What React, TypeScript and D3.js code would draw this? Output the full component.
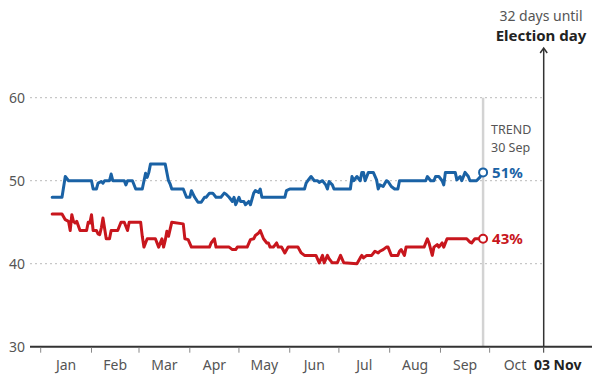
import * as d3 from 'd3'

const WIDTH = 600
const HEIGHT = 387

// poll tracker, 2020
const bidenDates = [
  '01-08', '01-14', '01-16', '01-18', '02-01', '02-02', '02-04', '02-05', '02-07', '02-08',
  '02-09', '02-12', '02-13', '02-14', '02-21', '02-22', '02-23', '02-26', '02-28', '03-03',
  '03-05', '03-06', '03-07', '03-08', '03-17', '03-19', '03-20', '03-21', '03-28', '03-30',
  '04-01', '04-02', '04-04', '04-06', '04-08', '04-10', '04-11', '04-13', '04-15', '04-17',
  '04-20', '04-22', '04-23', '04-25', '04-27', '04-28', '04-29', '05-01', '05-02', '05-04',
  '05-05', '05-07', '05-08', '05-10', '05-11', '05-13', '05-14', '05-15', '05-29', '05-30',
  '06-01', '06-10', '06-11', '06-12', '06-14', '06-16', '06-18', '06-19', '06-21', '06-23',
  '06-24', '06-25', '06-27', '06-28', '07-08', '07-09', '07-10', '07-12', '07-14', '07-15',
  '07-16', '07-17', '07-19', '07-22', '07-24', '07-25', '07-26', '07-28', '07-30', '07-31',
  '08-02', '08-04', '08-06', '08-07', '08-23', '08-24', '08-26', '08-28', '08-29', '08-31',
  '09-02', '09-03', '09-04', '09-10', '09-11', '09-13', '09-14', '09-16', '09-18', '09-19',
  '09-23', '09-25', '09-27',
]
const bidenValues = [
  48, 48, 50.5, 50, 50, 49, 49, 49.7, 49.9, 49.7,
  50, 50, 50.8, 50, 50, 49.5, 50, 50, 49, 49,
  50.9, 50.4, 51, 52, 52, 50, 49.6, 49, 49, 48,
  48, 48.8, 48, 47.4, 47.4, 48, 48, 48.5, 48.5, 48,
  48, 48.5, 48.4, 48, 47.5, 48, 47.1, 48, 47.5, 47.5,
  47.1, 47.5, 47.1, 48.5, 48.8, 48.6, 49, 48, 48, 48.8,
  49, 49, 49.7, 50, 50.5, 50, 50, 49.8, 50, 49.5,
  49, 49.9, 49.5, 49, 49, 50.5, 50, 50.5, 50, 51,
  51, 50, 51, 51, 50.1, 49, 49.5, 49.3, 50, 49.9,
  49.3, 49, 49, 50, 50, 50.5, 50, 50, 50.5, 50.5,
  50, 49.5, 51, 51, 50.1, 50.5, 50, 51, 50.5, 50,
  50, 50.4, 51,
]

const trumpDates = [
  '01-08', '01-14', '01-16', '01-18', '01-19', '01-20', '01-21', '01-22', '01-23', '01-25',
  '01-29', '01-30', '01-31', '02-01', '02-02', '02-04', '02-05', '02-06', '02-07', '02-08',
  '02-10', '02-12', '02-13', '02-17', '02-19', '02-21', '02-23', '02-24', '03-02', '03-03',
  '03-04', '03-06', '03-11', '03-13', '03-15', '03-16', '03-17', '03-18', '03-19', '03-21',
  '03-28', '03-29', '03-31', '04-02', '04-13', '04-14', '04-16', '04-17', '04-25', '04-27',
  '04-29', '04-30', '05-06', '05-08', '05-10', '05-11', '05-13', '05-14', '05-16', '05-18',
  '05-19', '05-20', '05-22', '05-24', '05-25', '05-27', '05-29', '05-31', '06-06', '06-08',
  '06-10', '06-17', '06-19', '06-21', '06-22', '06-24', '06-25', '06-27', '06-30', '07-02',
  '07-04', '07-12', '07-14', '07-15', '07-16', '07-18', '07-21', '07-23', '07-25', '07-26',
  '07-28', '07-30', '07-31', '08-02', '08-06', '08-07', '08-08', '08-10', '08-11', '08-22',
  '08-24', '08-25', '08-27', '08-28', '08-30', '08-31', '09-02', '09-03', '09-05', '09-17',
  '09-19', '09-20', '09-22', '09-27',
]
const trumpValues = [
  46, 46, 45.3, 45.1, 44, 45.9, 45.1, 44.9, 45.1, 44,
  44, 45, 44.9, 45.9, 44, 44, 43.6, 43.5, 44.3, 45.5,
  43, 43, 44, 44, 45, 45, 44, 45, 45, 43.3,
  42, 43, 43, 42, 43, 42, 42.8, 43.9, 43.3, 45,
  44.8, 43, 42.9, 42, 42, 42.5, 43, 42, 42, 41.7,
  41.7, 42, 42, 42.9, 43, 43.4, 43.7, 44, 43, 42.5,
  42.5, 42, 42, 42.5, 42, 42, 41.3, 42, 42, 41.3,
  41, 41, 40.1, 41, 40.1, 41, 40.6, 40.1, 40.1, 41,
  40.1, 40, 40.7, 41, 40.7, 41, 41, 41.5, 41.3, 41.5,
  41.7, 42, 42, 41, 41, 41.5, 41.7, 41, 42, 42,
  43, 42.5, 41, 42, 42.3, 42, 42.5, 42, 43, 43,
  42.6, 42.5, 43, 43,
]

const yTicks = [30, 40, 50, 60]
const monthLabels = ['Jan', 'Feb', 'Mar', 'Apr', 'May', 'Jun', 'Jul', 'Aug', 'Sep', 'Oct']
const electionDay = '2020-11-03'
const trendDay = '09-27'
const trendLabel = ['TREND', '30 Sep']
const countdown = '32 days until'

const BLUE = '#1a62a5'
const RED = '#c8161d'
const GREY = '#555'
const FONT = '"Noto Sans", sans-serif'

const parse = d3.timeParse('%Y-%m-%d')
const toDate = (md: string) => parse('2020-' + md) as Date

type Pt = { date: Date; value: number }
const zip = (dates: string[], values: number[]): Pt[] =>
  dates.map((d, i) => ({ date: toDate(d), value: values[i] }))

export default function App() {
  const start = toDate('01-01')
  const end = parse(electionDay) as Date

  const x = d3.scaleTime().domain([start, end]).range([40.7, 543.7])
  const y = d3.scaleLinear().domain([30, 60]).range([346.7, 97.7])

  const line = d3
    .line<Pt>()
    .x((d) => x(d.date))
    .y((d) => y(d.value))

  const series = [
    { data: zip(bidenDates, bidenValues), color: BLUE },
    { data: zip(trumpDates, trumpValues), color: RED },
  ]

  const monthStarts = d3.timeMonth.range(start, d3.timeMonth.offset(start, 10))
  const trendX = x(toDate(trendDay))
  const endX = x(end)
  const axisY = y(30)

  return (
    <svg
      width={WIDTH}
      height={HEIGHT}
      style={{ position: 'absolute', left: 0, top: 0, background: '#fff' }}
      fontFamily={FONT}
    >
      {/* gridlines */}
      {yTicks.map((t) => (
        <g key={t}>
          {t !== 30 && (
            <line
              x1={30}
              x2={endX}
              y1={y(t)}
              y2={y(t)}
              stroke="#bbb"
              strokeDasharray="2 3"
            />
          )}
          <text x={25} y={y(t)} dy="0.35em" textAnchor="end" fontSize={14} fill={GREY}>
            {t}
          </text>
        </g>
      ))}

      {/* trend marker */}
      <line x1={trendX} x2={trendX} y1={y(60)} y2={axisY} stroke="#d3d3d3" strokeWidth={2.5} />
      {trendLabel.map((s, i) => (
        <text key={s} x={trendX + 8} y={134 + i * 18} fontSize={12.5} fill={GREY}>
          {s}
        </text>
      ))}

      {/* election day arrow */}
      <line x1={endX} x2={endX} y1={axisY} y2={49} stroke="#333" strokeWidth={1.5} />
      <path
        d={`M${endX - 3.5},${53} L${endX},${48} L${endX + 3.5},${53}`}
        fill="none"
        stroke="#333"
        strokeWidth={1.5}
      />
      <text x={541} y={21} textAnchor="middle" fontSize={14} fill={GREY}>
        {countdown}
      </text>
      <text x={541} y={41} textAnchor="middle" fontSize={15} fontWeight="bold" fill="#222">
        Election day
      </text>

      {/* x axis */}
      <line x1={30} x2={592} y1={axisY} y2={axisY} stroke="#333" strokeWidth={2} />
      {[...monthStarts, end].map((d, i) => (
        <line
          key={i}
          x1={x(d)}
          x2={x(d)}
          y1={axisY + 1}
          y2={axisY + 6}
          stroke={i === monthStarts.length ? '#333' : '#888'}
          strokeWidth={1}
        />
      ))}
      {monthStarts.map((d, i) => (
        <text
          key={i}
          x={(x(d) + x(d3.timeMonth.offset(d, 1))) / 2}
          y={370}
          textAnchor="middle"
          fontSize={14}
          fill={GREY}
        >
          {monthLabels[i]}
        </text>
      ))}
      <text x={endX + 14} y={370} textAnchor="middle" fontSize={14} fontWeight="bold" fill="#222">
        03 Nov
      </text>

      {/* lines */}
      {series.map((s, i) => {
        const last = s.data[s.data.length - 1]
        return (
          <g key={i}>
            <path
              d={line(s.data) ?? ''}
              fill="none"
              stroke={s.color}
              strokeWidth={3}
              strokeLinejoin="round"
              strokeLinecap="round"
            />
            <circle
              cx={x(last.date)}
              cy={y(last.value)}
              r={4}
              fill="#fff"
              stroke={s.color}
              strokeWidth={2}
            />
            <text
              x={x(last.date) + 9}
              y={y(last.value)}
              dy="0.36em"
              fontSize={15}
              fontWeight="bold"
              fill={s.color}
            >
              {Math.round(last.value)}%
            </text>
          </g>
        )
      })}
    </svg>
  )
}
